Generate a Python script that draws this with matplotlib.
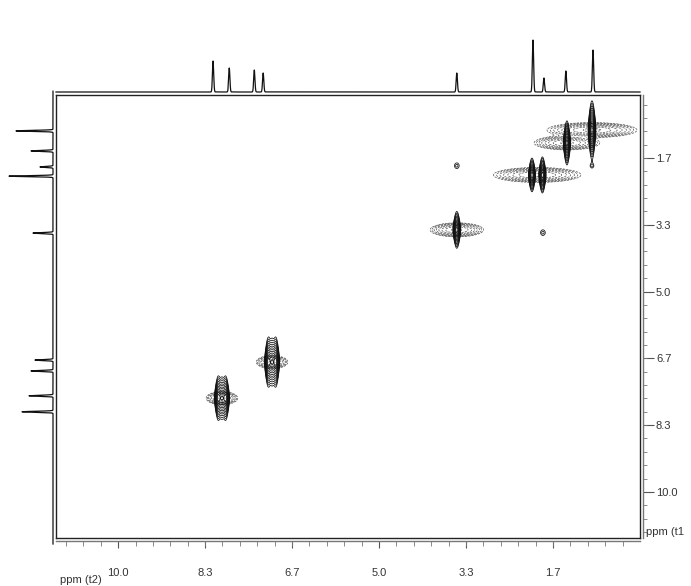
import numpy as np
import matplotlib
matplotlib.use('Agg')
import matplotlib.pyplot as plt

plt.rcParams['font.family'] = ['Liberation Sans', 'DejaVu Sans']

W, H = 691, 586

# ---- 1D projection along F2 (top trace) ----
top_ppm = [8.18, 7.87, 7.39, 7.22, 3.51, 2.05, 1.84, 1.42, 0.90]
top_int = [31, 24, 22, 19, 19, 52, 14, 21, 42]

# ---- 1D projection along F1 (left trace) ----
left_ppm = [0.99, 1.49, 1.89, 2.12, 3.54, 6.71, 6.98, 7.60, 8.00]
left_int = [37, 22, 13, 44, 20, 18, 22, 24, 31]

# ---- 2D cross peaks ----
pk_f2 = [8.01, 7.05, 3.51, 1.97, 1.40, 0.92, 3.51, 1.86, 0.92]
pk_f1 = [7.66, 6.76, 3.46, 2.09, 1.29, 0.97, 1.86, 3.53, 1.86]
pk_amp = [1.0, 1.0, 1.0, 1.0, 1.0, 1.0, 0.045, 0.045, 0.035]
pk_split = [0.07, 0.07, 0.0, 0.10, 0.0, 0.0, 0.0, 0.0, 0.0]
pk_len_f1 = [0.55, 0.62, 0.46, 0.45, 0.55, 0.73, 0.32, 0.32, 0.2]
pk_sig_f2 = [0.028, 0.028, 0.028, 0.026, 0.026, 0.028, 0.05, 0.05, 0.04]
pk_wing_f2 = [0.13, 0.13, 0.22, 0.36, 0.27, 0.37, 0.0, 0.0, 0.0]
pk_wing_f1 = [0.07, 0.07, 0.075, 0.08, 0.075, 0.08, 0.0, 0.0, 0.0]

x_major = [10.0, 8.333, 6.667, 5.0, 3.333, 1.667]
x_labels = ['10.0', '8.3', '6.7', '5.0', '3.3', '1.7']
y_major = [1.667, 3.333, 5.0, 6.667, 8.333, 10.0]
y_labels = ['1.7', '3.3', '5.0', '6.7', '8.3', '10.0']
y_unit_pos = 11.0

XL = (11.19, 0.0)
YL = (11.15, 0.095)


def rect(x0, y0, x1, y1):
    return [x0 / W, 1 - y1 / H, (x1 - x0) / W, (y1 - y0) / H]


fig = plt.figure(figsize=(W / 100, H / 100), dpi=100)

# ---- main 2D panel ----
ax = fig.add_axes(rect(56, 95, 640, 538))
ax.set_xlim(XL)
ax.set_ylim(YL)
ax.set_xticks([])
ax.set_yticks([])
for s in ax.spines.values():
    s.set_linewidth(1.0)
    s.set_color('#222222')

gx = np.linspace(0, 11.2, 1500)
gy = np.linspace(0, 11.2, 1500)
X, Y = np.meshgrid(gx, gy)
S = np.zeros_like(X)
Wf = np.zeros_like(X)
for i in range(len(pk_f2)):
    if pk_split[i] > 0:
        offs = [-pk_split[i], 0.0, pk_split[i]] if i < 2 else [-pk_split[i], pk_split[i]]
    else:
        offs = [0.0]
    gam = pk_len_f1[i] / 2.18
    for k, o in enumerate(offs):
        a = pk_amp[i] * (1.0 if k % 2 == 0 else 0.8)
        S += a * np.exp(-0.5 * ((X - pk_f2[i] - o) / pk_sig_f2[i]) ** 2) \
            / (1 + ((Y - pk_f1[i]) / gam) ** 2) ** 2
    if pk_wing_f2[i] > 0:
        Wf += 0.45 * pk_amp[i] * np.exp(-0.5 * ((X - pk_f2[i]) / pk_wing_f2[i]) ** 2
                                        - 0.5 * ((Y - pk_f1[i]) / pk_wing_f1[i]) ** 2)

lev_s = 0.03 * 1.35 ** np.arange(12)
lev_w = 0.03 * 1.45 ** np.arange(8)
ax.contour(X, Y, Wf, levels=lev_w, colors='#444444', linewidths=0.45,
           linestyles='--')
ax.contour(X, Y, S, levels=lev_s, colors='#111111', linewidths=0.55)

# ---- tick axes (offset right / bottom scales) ----
axt = fig.add_axes(rect(56, 95, 640, 538), facecolor='none')
axt.set_xlim(XL)
axt.set_ylim(YL)
axt.spines['top'].set_visible(False)
axt.spines['left'].set_visible(False)
axt.spines['right'].set_position(('outward', 2.5))
axt.spines['bottom'].set_position(('outward', 2.5))
for sp in ('right', 'bottom'):
    axt.spines[sp].set_color('#777777')
    axt.spines[sp].set_linewidth(1.0)
axt.yaxis.tick_right()
axt.set_xticks(x_major)
axt.set_xticklabels(x_labels)
axt.set_xticks(np.arange(11.0, 0.0, -1 / 3.0), minor=True)
axt.set_yticks(y_major)
axt.set_yticklabels(y_labels)
axt.set_yticks(list(np.arange(1 / 3.0, 11.0, 1 / 3.0)) + [y_unit_pos], minor=True)
axt.tick_params(axis='x', which='major', direction='out', length=5, width=0.8,
                color='#555555', labelsize=8, labelcolor='#333333', pad=14)
axt.tick_params(axis='x', which='minor', direction='out', length=3.5, width=0.6,
                color='#777777')
axt.tick_params(axis='y', which='major', direction='out', length=8, width=0.8,
                color='#555555', labelsize=8, labelcolor='#333333', pad=1)
axt.tick_params(axis='y', which='minor', direction='out', length=3, width=0.6,
                color='#777777')
axt.text(1.0 + 6.5 / 584, y_unit_pos, 'ppm (t1', transform=axt.get_yaxis_transform(),
         fontsize=8, color='#333333', ha='left', va='center')

fig.text(60 / W, 1 - 580 / H, 'ppm (t2)', fontsize=8, color='#333333',
         ha='left', va='center')

# ---- top projection ----
axp = fig.add_axes(rect(56, 20, 640, 92), facecolor='none')
xs = np.linspace(0, 11.19, 8000)
spec_t = np.zeros_like(xs)
wl = 0.012
for p, h in zip(top_ppm, top_int):
    spec_t += h * np.exp(-0.5 * ((xs - p) / wl) ** 2)
axp.plot(xs, spec_t, color='#111111', lw=0.9, clip_on=False)
axp.set_xlim(XL)
axp.set_ylim(0, 72)
axp.axis('off')

# ---- left projection ----
axl = fig.add_axes(rect(5, 95, 53, 538), facecolor='none')
ys = np.linspace(0.0, 11.3, 8000)
spec_l = np.zeros_like(ys)
for p, h in zip(left_ppm, left_int):
    spec_l += h * np.exp(-0.5 * ((ys - p) / wl) ** 2)
axl.plot(spec_l, ys, color='#111111', lw=0.9, clip_on=False)
axl.set_ylim(YL)
axl.set_xlim(48, 0)
axl.axis('off')

fig.savefig('out.png', dpi=100)
